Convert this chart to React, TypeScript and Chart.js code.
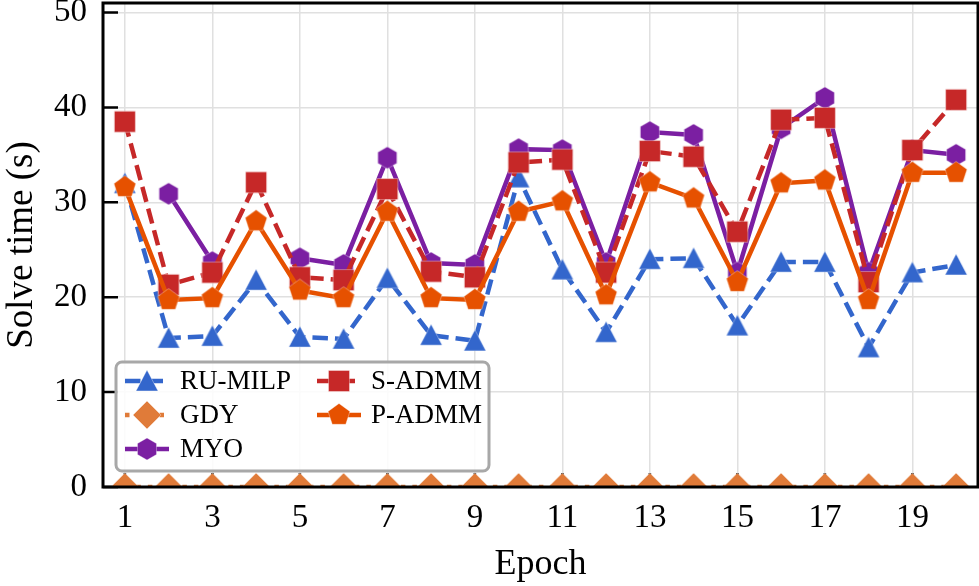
import React, { useEffect, useRef } from "react";
import { Chart, registerables } from "chart.js";

Chart.register(...registerables);

const epochs = [1, 2, 3, 4, 5, 6, 7, 8, 9, 10, 11, 12, 13, 14, 15, 16, 17, 18, 19, 20];
const xTickValues = [1, 3, 5, 7, 9, 11, 13, 15, 17, 19];
const yTickValues = [0, 10, 20, 30, 40, 50];

const ruMilp = [32.0, 15.7, 15.9, 21.8, 15.8, 15.6, 22.0, 16.0, 15.4, 32.6, 22.9, 16.3, 24.0, 24.1, 17.0, 23.7, 23.7, 14.7, 22.6, 23.4];
const gdy = [0, 0, 0, 0, 0, 0, 0, 0, 0, 0, 0, 0, 0, 0, 0, 0, 0, 0, 0, 0];
const myo = [null, 30.9, 23.7, null, 24.1, 23.4, 34.7, 23.6, 23.4, 35.6, 35.5, 23.6, 37.4, 37.1, 22.6, 37.8, 41.0, 22.6, 35.5, 35.0];
const sAdmm = [38.5, 21.3, 22.6, 32.1, 22.1, 21.8, 31.4, 22.7, 22.1, 34.2, 34.5, 22.6, 35.4, 34.8, 26.9, 38.7, 38.9, 21.6, 35.5, 40.8];
const pAdmm = [31.6, 19.7, 19.9, 28.0, 20.7, 19.9, 29.0, 19.9, 19.7, 29.0, 30.1, 20.2, 32.1, 30.4, 21.6, 32.0, 32.3, 19.7, 33.1, 33.1];

const seriesNames = ["RU-MILP", "GDY", "MYO", "S-ADMM", "P-ADMM"];

const FONT = "'Liberation Serif', 'Times New Roman', serif";

function polygon(ctx: CanvasRenderingContext2D, cx: number, cy: number, r: number, n: number) {
  ctx.beginPath();
  for (let i = 0; i < n; i++) {
    const a = -Math.PI / 2 + (i * 2 * Math.PI) / n;
    const x = cx + r * Math.cos(a);
    const y = cy + r * Math.sin(a);
    if (i === 0) ctx.moveTo(x, y);
    else ctx.lineTo(x, y);
  }
  ctx.closePath();
}

function makeMarker(shape: string, color: string): HTMLCanvasElement {
  const S = 32;
  const c = document.createElement("canvas");
  c.width = S;
  c.height = S;
  const ctx = c.getContext("2d")!;
  const m = S / 2;
  ctx.fillStyle = color;
  if (shape === "triangle") {
    const r = 11;
    ctx.beginPath();
    ctx.moveTo(m, m - r);
    ctx.lineTo(m + r, m + r * 0.9);
    ctx.lineTo(m - r, m + r * 0.9);
    ctx.closePath();
  } else if (shape === "square") {
    ctx.beginPath();
    ctx.rect(m - 10.5, m - 10.5, 21, 21);
  } else if (shape === "diamond") {
    const r = 14;
    ctx.beginPath();
    ctx.moveTo(m, m - r);
    ctx.lineTo(m + r, m);
    ctx.lineTo(m, m + r);
    ctx.lineTo(m - r, m);
    ctx.closePath();
  } else if (shape === "hexagon") {
    polygon(ctx, m, m, 11, 6);
  } else {
    polygon(ctx, m, m, 11.5, 5);
  }
  ctx.fill();
  ctx.lineWidth = 1;
  ctx.strokeStyle = "rgba(255,255,255,0.35)";
  ctx.stroke();
  return c;
}

export default function App() {
  const ref = useRef<HTMLCanvasElement | null>(null);

  useEffect(() => {
    document.body.style.margin = "0";
    const canvas = ref.current;
    if (!canvas) return;

    const colors = ["#3366CC", "#E07B39", "#7B1FA2", "#C62828", "#E65100"];
    const shapes = ["triangle", "diamond", "hexagon", "square", "pentagon"];
    const dashes = [[15.5, 7], [4.5, 7], [], [15.5, 7], []];
    const values = [ruMilp, gdy, myo, sAdmm, pAdmm];
    const markers = shapes.map((s, i) => makeMarker(s, colors[i]));

    const datasets = values.map((vals, i) => ({
      label: seriesNames[i],
      data: epochs.map((e, k) => ({ x: e, y: vals[k] })),
      borderColor: colors[i],
      backgroundColor: colors[i],
      borderWidth: 4.5,
      borderDash: dashes[i],
      pointStyle: markers[i],
      pointRadius: 11,
      pointHoverRadius: 11,
      spanGaps: false,
      tension: 0,
      order: 5 - i,
    }));

    const innerTicks = {
      id: "innerTicks",
      beforeDatasetsDraw(chart: any) {
        const { ctx, chartArea } = chart;
        const xs = chart.scales.x;
        const ys = chart.scales.y;
        ctx.save();
        ctx.strokeStyle = "#000";
        ctx.lineWidth = 2.5;
        ctx.beginPath();
        yTickValues.forEach((v) => {
          const py = ys.getPixelForValue(v);
          ctx.moveTo(chartArea.left, py);
          ctx.lineTo(chartArea.left + 15, py);
        });
        xTickValues.forEach((v) => {
          const px = xs.getPixelForValue(v);
          ctx.moveTo(px, chartArea.bottom);
          ctx.lineTo(px, chartArea.bottom - 14);
        });
        ctx.stroke();
        ctx.restore();
      },
    };

    const frame = {
      id: "frame",
      afterDatasetsDraw(chart: any) {
        const { ctx, chartArea } = chart;
        ctx.save();
        ctx.strokeStyle = "#000";
        ctx.lineWidth = 3;
        ctx.strokeRect(chartArea.left, chartArea.top, chartArea.right - chartArea.left, chartArea.bottom - chartArea.top);
        ctx.restore();
      },
    };

    const customLegend = {
      id: "customLegend",
      afterDraw(chart: any) {
        const ctx: CanvasRenderingContext2D = chart.ctx;
        ctx.save();
        const bx = 116, by = 362, bw = 373, bh = 109, rr = 6;
        ctx.beginPath();
        ctx.moveTo(bx + rr, by);
        ctx.arcTo(bx + bw, by, bx + bw, by + bh, rr);
        ctx.arcTo(bx + bw, by + bh, bx, by + bh, rr);
        ctx.arcTo(bx, by + bh, bx, by, rr);
        ctx.arcTo(bx, by, bx + bw, by, rr);
        ctx.closePath();
        ctx.fillStyle = "rgba(255,255,255,0.85)";
        ctx.fill();
        ctx.lineWidth = 3;
        ctx.strokeStyle = "#a8a8a8";
        ctx.stroke();

        const rows = [381, 415, 449];
        const slots = [
          { col: 0, row: 0 },
          { col: 0, row: 1 },
          { col: 0, row: 2 },
          { col: 1, row: 0 },
          { col: 1, row: 1 },
        ];
        const handleX = [125, 317];
        const textX = [180, 371];
        ctx.font = `27px ${FONT}`;
        ctx.textBaseline = "middle";
        ctx.textAlign = "left";
        chart.data.datasets.forEach((ds: any, i: number) => {
          const s = slots[i];
          const y = rows[s.row];
          const x0 = handleX[s.col];
          ctx.save();
          ctx.strokeStyle = ds.borderColor;
          ctx.lineWidth = ds.borderWidth;
          ctx.setLineDash(ds.borderDash || []);
          ctx.beginPath();
          ctx.moveTo(x0, y);
          ctx.lineTo(x0 + 44, y);
          ctx.stroke();
          ctx.restore();
          const img = ds.pointStyle as HTMLCanvasElement;
          ctx.drawImage(img, x0 + 22 - img.width / 2, y - img.height / 2);
          ctx.fillStyle = "#000";
          ctx.fillText(ds.label, textX[s.col], y + 1);
        });
        ctx.restore();
      },
    };

    const chart = new Chart(canvas, {
      type: "line",
      data: { datasets: datasets as any },
      options: {
        animation: false,
        responsive: false,
        devicePixelRatio: 1,
        layout: { autoPadding: false, padding: { top: 3, right: 1, left: 0, bottom: 0 } },
        plugins: {
          legend: { display: false },
          tooltip: { enabled: false },
        },
        scales: {
          x: {
            type: "linear",
            min: 0.5,
            max: 20.5,
            afterBuildTicks: (scale: any) => {
              scale.ticks = xTickValues.map((v) => ({ value: v }));
            },
            afterFit: (scale: any) => {
              scale.height = 99;
              scale.paddingLeft = 0;
              scale.paddingRight = 0;
            },
            grid: { color: "#e0e0e0", lineWidth: 1.5, drawTicks: false },
            border: { display: false },
            ticks: {
              padding: 12,
              color: "#000",
              font: { family: FONT, size: 33 },
              callback: (v: any) => String(v),
            },
            title: {
              display: true,
              text: "Epoch",
              color: "#000",
              padding: 0,
              font: { family: FONT, size: 36 },
            },
          },
          y: {
            type: "linear",
            min: 0,
            max: 51,
            afterBuildTicks: (scale: any) => {
              scale.ticks = yTickValues.map((v) => ({ value: v }));
            },
            afterFit: (scale: any) => {
              scale.width = 103;
              scale.paddingTop = 0;
              scale.paddingBottom = 0;
            },
            grid: { color: "#e0e0e0", lineWidth: 1.5, drawTicks: false },
            border: { display: false },
            ticks: {
              padding: 16,
              color: "#000",
              font: { family: FONT, size: 33 },
              callback: (v: any) => String(v),
            },
            title: {
              display: true,
              text: "Solve time (s)",
              color: "#000",
              padding: 0,
              font: { family: FONT, size: 37 },
            },
          },
        },
      },
      plugins: [innerTicks, frame, customLegend],
    });

    return () => {
      chart.destroy();
    };
  }, []);

  return (
    <div style={{ width: 979, height: 586 }}>
      <canvas ref={ref} width={979} height={586} style={{ display: "block" }} />
    </div>
  );
}
